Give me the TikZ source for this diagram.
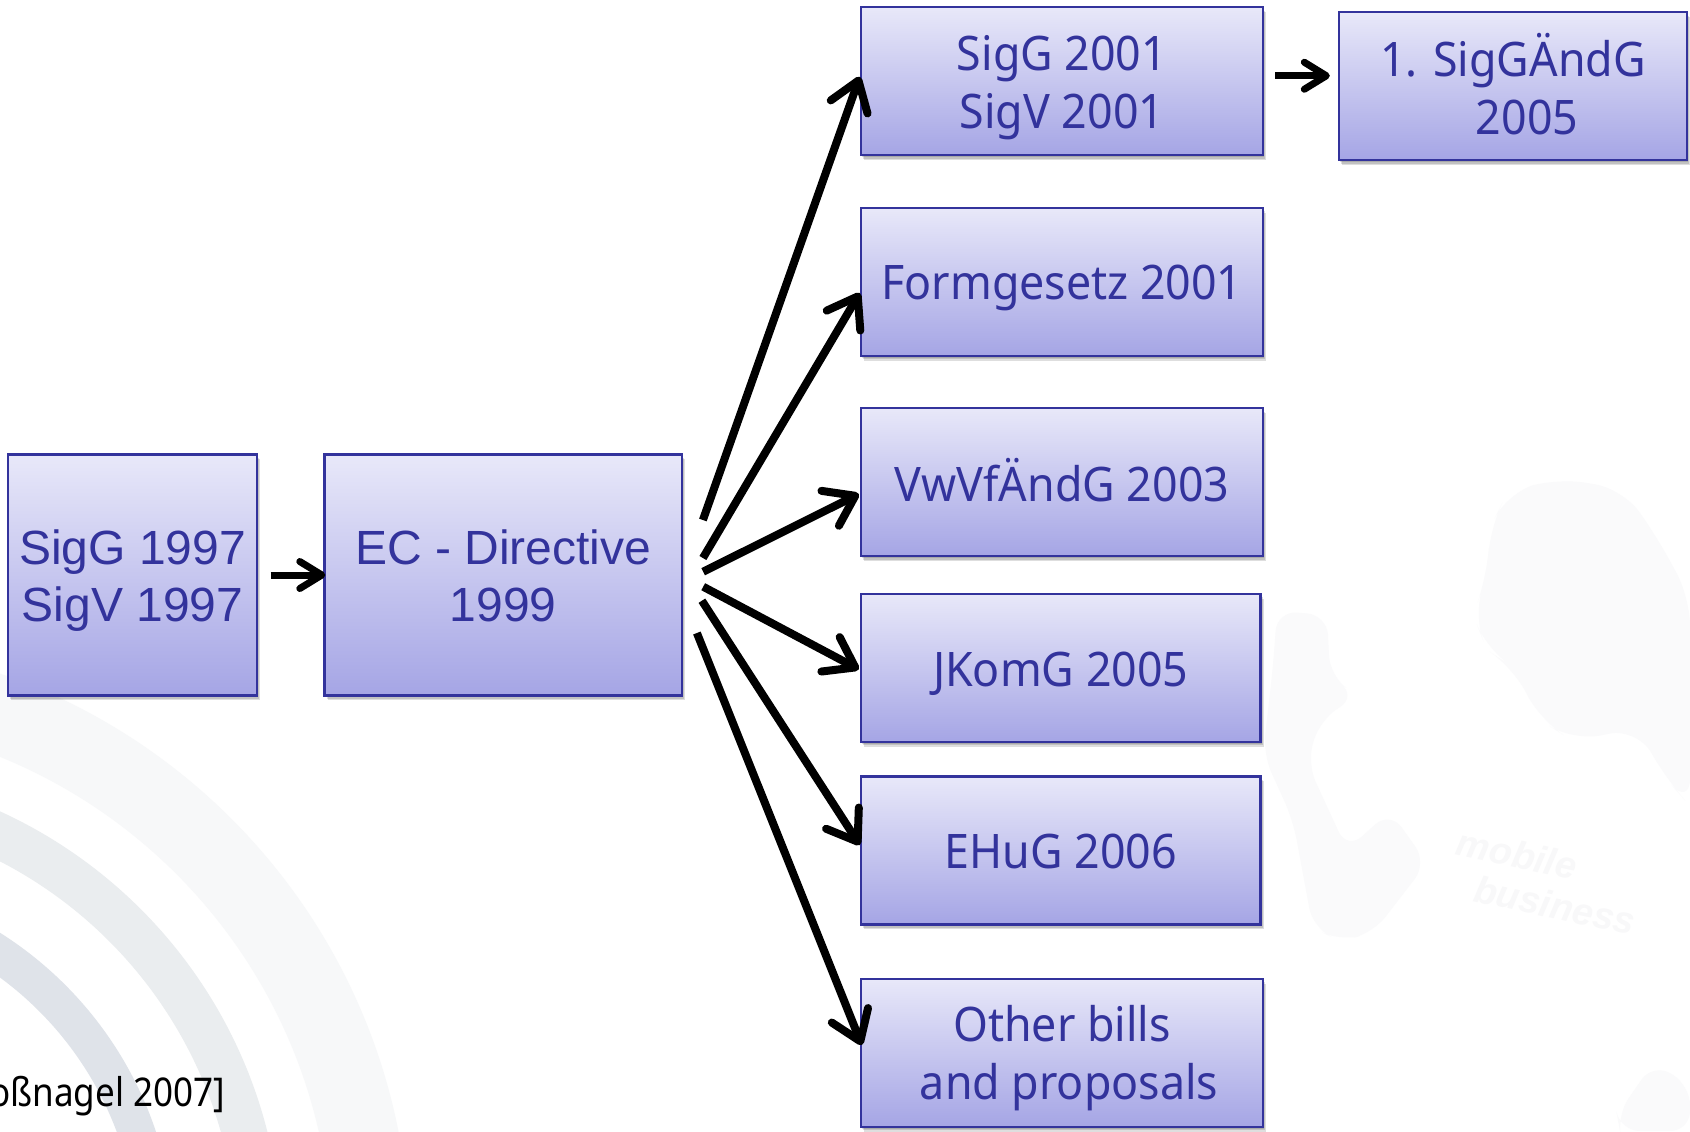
\documentclass[tikz,border=0pt]{standalone}
\usepackage{fontspec}
\setmainfont{Liberation Sans}
\newfontfamily\tahlike[FakeStretch=0.94]{Noto Sans}
\newfontfamily\citefont[FakeStretch=0.885]{Noto Sans}
\usetikzlibrary{arrows.meta,calc,shadows}
\definecolor{ink}{HTML}{33339C}
\definecolor{topfill}{HTML}{E8E8F9}
\definecolor{botfill}{HTML}{A5A5E5}
\definecolor{bandA}{HTML}{DFE3E9}
\definecolor{bandB}{HTML}{EAEDEF}
\definecolor{bandC}{HTML}{F7F8F9}
\definecolor{wmark}{HTML}{FAFAFB}
\definecolor{wtext}{HTML}{F8F8F9}
% text whose first baseline lies #1 pt below the centre of its box
\newcommand{\boxtxt}[2]{\raisebox{-#1pt}[0pt][0pt]{\begin{tabular}[t]{@{}c@{}}#2\end{tabular}}}
\tikzset{
  softshadow/.style={general shadow={shadow xshift=#1*1pt,shadow yshift=-#1*1.5pt,opacity=.13,fill=black}},
  boxbase/.style={softshadow=1.6,softshadow=1.1,softshadow=.6,
    draw=ink,line width=1.2pt,top color=topfill,bottom color=botfill,
    inner sep=0pt,text=ink,minimum height=74pt},
  arialbox/.style={boxbase,font=\fontsize{24}{28.8}\selectfont},
  tahbox/.style={boxbase,font=\tahlike\fontsize{23.8}{29}\selectfont},
  bigarrow/.style={line width=4pt,-{Straight Barb[length=14pt,width=19.5pt,round]}},
  smallarrow/.style={line width=3.5pt,-{Straight Barb[length=11pt,width=13.5pt,round]}},
  wmtext/.style={rotate=-12,text=wtext,font=\itshape\bfseries\fontsize{18.8}{22}\selectfont,inner sep=0pt},
}
\begin{document}
\begin{tikzpicture}[x=0.5pt,y=-0.5pt]
\useasboundingbox (0,0) rectangle (1690,1131);
\clip (0,0) rectangle (1690,1131);
\fill[white] (0,0) rectangle (1690,1131);
% background rings
\coordinate (ringc) at (-200,1250);
\fill[bandC,even odd rule] (ringc) circle (610) (ringc) circle (532);
\fill[bandB,even odd rule] (ringc) circle (482) (ringc) circle (437);
\fill[bandA,even odd rule] (ringc) circle (375) (ringc) circle (338);
% watermark
\fill[wmark,rounded corners=14pt] (1490,528) -- (1507,493) -- (1557,478) -- (1623,489) -- (1657,537) -- (1690,598) -- (1690,806) -- (1667,780) -- (1637,728) -- (1573,741) -- (1540,720) -- (1513,667) -- (1487,650) -- (1473,615) -- (1487,576) -- cycle;
\fill[wmark,rounded corners=10pt] (1277,611) -- (1327,615) -- (1330,676) -- (1357,696) -- (1320,720) -- (1307,763) -- (1347,850) -- (1390,811) -- (1427,863) -- (1373,933) -- (1340,941) -- (1313,928) -- (1293,820) -- (1263,754) -- (1273,667) -- cycle;
\fill[wmark,rounded corners=10pt] (1617,1115) -- (1653,1063) -- (1690,1085) -- (1690,1131) -- (1620,1131) -- cycle;
\node[wmtext] (wma) at (1517,854) {mobile};
\node[wmtext] (wmb) at (1555,905) {business};
% boxes
\node[arialbox,minimum width=124.5pt,minimum height=120.5pt] (sig97) at (132.5,575) {\boxtxt{-5.5}{SigG 1997\\SigV 1997}};
\node[arialbox,minimum width=178.75pt,minimum height=120.5pt] (ec) at (503.25,575) {\boxtxt{-5.5}{EC - Directive\\1999}};
\node[tahbox,minimum width=201pt] (sig01) at (1062,81.25) {\boxtxt{-5.25}{SigG 2001\\SigV 2001}};
\node[tahbox,minimum width=174pt] (aend) at (1513,86.25) {\boxtxt{-5.1}{1. SigGÄndG\\\hspace*{14pt}2005}};
\node[tahbox,minimum width=201pt] (form) at (1062,282) {\boxtxt{8.65}{Formgesetz 2001}};
\node[tahbox,minimum width=201pt] (vw) at (1062,482.25) {\boxtxt{9.4}{VwVfÄndG 2003}};
\node[tahbox,minimum width=199.75pt] (jk) at (1060.75,668) {\boxtxt{9.25}{JKomG 2005}};
\node[tahbox,minimum width=199.75pt] (eh) at (1060.75,850.5) {\boxtxt{9}{EHuG 2006}};
\node[tahbox,minimum width=201pt] (oth) at (1062,1053) {\boxtxt{-5.65}{Other bills\\\hspace*{7pt}and proposals}};
\node[anchor=base east,inner sep=0pt,font=\citefont\fontsize{19.8}{24}\selectfont,text=black] (cite) at (225.5,1106.7) {oßnagel 2007]};
% connectors
\draw[smallarrow] ($(sig97.east)+(12.5,0)$) -- ($(ec.west)+(2,0)$);
\draw[smallarrow] ($(sig01.east)+(11,-5.5)$) -- ($(aend.west)+(-8,-10.5)$);
\draw[bigarrow] ($(ec.east)+(19.7,-55)$) -- ($(sig01.west)+(0,-4.5)$);
\draw[bigarrow] ($(ec.east)+(19.7,-17)$) -- ($(form.west)+(0,11)$);
\draw[bigarrow] ($(ec.east)+(20,-3.3)$) -- ($(vw.west)+(-1,11.75)$);
\draw[bigarrow] ($(ec.east)+(20,11.7)$) -- ($(jk.west)+(-1,1.3)$);
\draw[bigarrow] ($(ec.east)+(18.7,25.7)$) -- ($(eh.west)+(0,-5.5)$);
\draw[bigarrow] ($(ec.east)+(13.7,58)$) -- ($(oth.west)+(2,-8)$);
\end{tikzpicture}
\end{document}
